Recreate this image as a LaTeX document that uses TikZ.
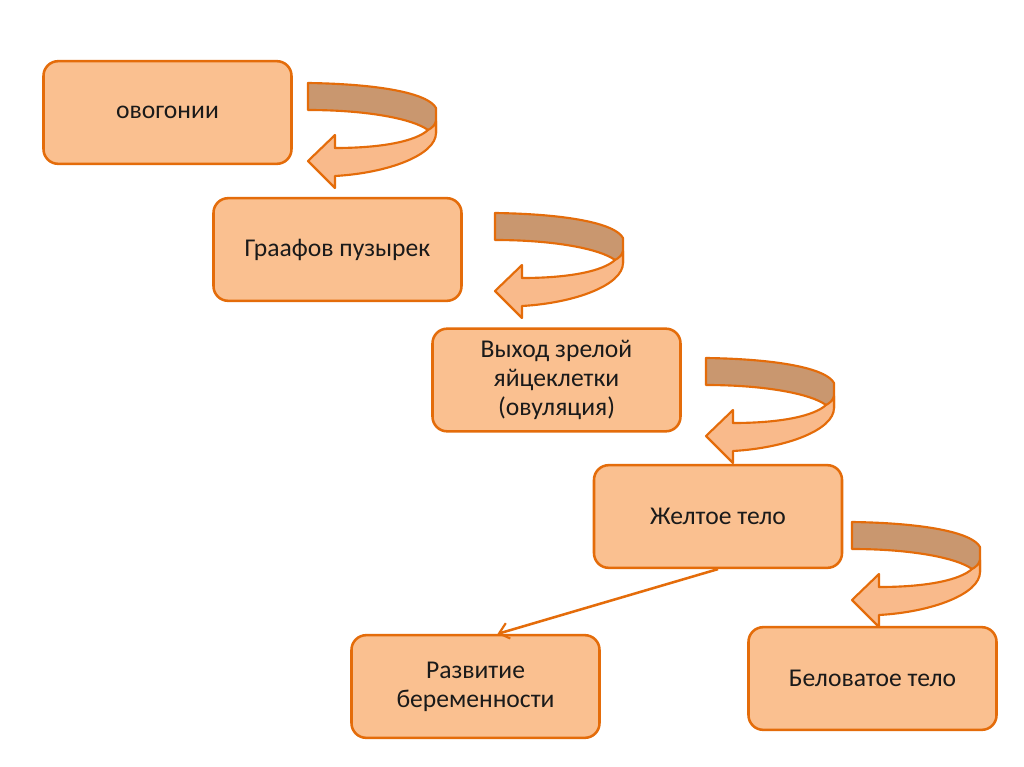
\documentclass[tikz,border=0pt]{standalone}
\usepackage{fontspec}
\setmainfont{Carlito}
\usetikzlibrary{arrows.meta}
\definecolor{boxfill}{HTML}{FAC090}
\definecolor{boxline}{HTML}{E46C0A}
\definecolor{bandfill}{HTML}{C9976F}
\definecolor{headfill}{HTML}{F9BA8B}
\definecolor{txt}{HTML}{1A1A1A}
\tikzset{
  stagebox/.style={draw=boxline, fill=boxfill, line width=1.9pt, rounded corners=11pt,
    minimum width=186pt, minimum height=77pt, align=center, text=txt,
    font=\fontsize{19.2}{21.9}\selectfont, inner sep=0pt},
  bandshape/.style={draw=boxline, fill=bandfill, line width=1.6pt, line join=round},
  headshape/.style={draw=boxline, fill=headfill, line width=1.6pt, line join=round},
  link/.style={draw=boxline, line width=1.9pt, -{Straight Barb[length=7pt,width=12pt,line width=1.6pt]}}
}
\newcommand{\turnarrow}[2]{%
  \begin{scope}[shift={(#1,#2)}]
    \path[bandshape] (0,0) .. controls (70,1) and (120,10) .. (128,25) -- (128,50)
      -- (120,47) .. controls (105,36) and (60,27) .. (0,27) -- cycle;
    \path[headshape] (120,47) .. controls (124,45) and (127,42) .. (128,38) -- (128,50)
      .. controls (128,72) and (80,90) .. (27,93) -- (27,105) -- (0,78) -- (27,52) -- (27,65)
      .. controls (75,65) and (108,58) .. (120,47) -- cycle;
  \end{scope}}
\begin{document}
\begin{tikzpicture}[x=0.75pt,y=-0.75pt]
\useasboundingbox (0,0) rectangle (1024,767);
\fill[white] (0,0) rectangle (1024,767);
\node[stagebox] (s1) at (167.5,112.5) {овогонии};
\node[stagebox] (s2) at (337.5,249.5) {Граафов пузырек};
\node[stagebox] (s3) at (556.5,380) {Выход зрелой\\яйцеклетки\\(овуляция)};
\node[stagebox] (s4) at (718,516.5) {Желтое тело};
\node[stagebox] (s5) at (475.5,686.5) {Развитие\\беременности};
\node[stagebox] (s6) at (872.5,678.5) {Беловатое тело};
\turnarrow{308}{83}
\turnarrow{495}{213}
\turnarrow{706}{358}
\turnarrow{852}{522}
\coordinate (s5in) at ([xshift=16.5pt]s5.north);
\draw[link] (s4.south) -- (s5in);
\end{tikzpicture}
\end{document}
